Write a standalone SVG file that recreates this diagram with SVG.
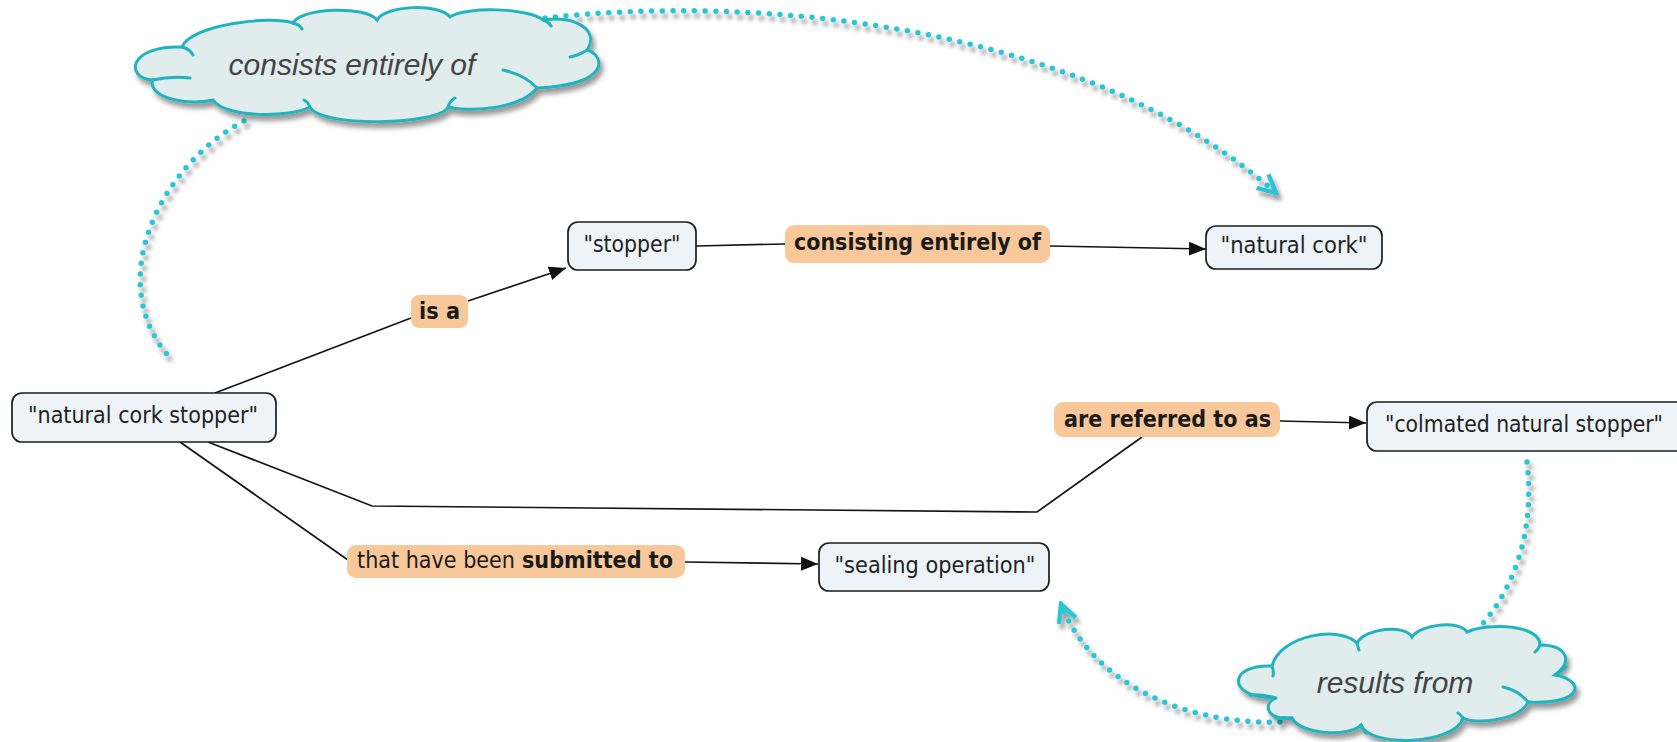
<svg xmlns="http://www.w3.org/2000/svg" width="1677" height="742" viewBox="0 0 1677 742">
  <defs>
    <style>
      .node rect { fill: #edf3f6; stroke: #1c1c1c; stroke-width: 1.7; }
      .node text { font-family: "DejaVu Sans", Verdana, sans-serif; font-size: 23px; fill: #222; text-anchor: middle; }
      .label rect { fill: #f8c89a; stroke: none; }
      .label text { font-family: "DejaVu Sans", Verdana, sans-serif; font-size: 23px; font-weight: bold; fill: #1a1a1a; text-anchor: middle; }
      .label text.plain { font-weight: normal; }
      .label text.start { text-anchor: start; }
      .link { fill: none; stroke: #141414; stroke-width: 1.7; }
      .dots { fill: none; stroke: #2ac6d6; stroke-width: 5.5; stroke-linecap: round; stroke-dasharray: 0 10.7; }
      .cloud path.body { fill: #e1eced; stroke: #22b4be; stroke-width: 3; }
      .cloud path.crease { fill: none; stroke: #22b4be; stroke-width: 3; stroke-linecap: round; }
      .cloud text { font-family: "Liberation Sans", Arial, sans-serif; font-style: italic; font-size: 30px; fill: #444; text-anchor: middle; }
    </style>
    <marker id="arrow" markerUnits="userSpaceOnUse" viewBox="0 0 17 14" refX="17" refY="7" markerWidth="17" markerHeight="14" orient="auto">
      <path d="M0,0 L17,7 L0,14 Z" fill="#111"/>
    </marker>
    <marker id="chevron" markerUnits="userSpaceOnUse" viewBox="0 0 24 24" refX="21" refY="12" markerWidth="24" markerHeight="24" orient="auto">
      <path d="M3,3 L21,12 L3,21" fill="none" stroke="#2ac6d6" stroke-width="4.5" stroke-dasharray="none" stroke-linejoin="miter"/>
    </marker>
    <filter id="shadow" x="-10%" y="-20%" width="130%" height="160%">
      <feDropShadow dx="3" dy="5" stdDeviation="2" flood-color="#000" flood-opacity="0.4"/>
    </filter>
    <filter id="cloudShadow" x="-10%" y="-20%" width="130%" height="160%">
      <feDropShadow dx="3" dy="5" stdDeviation="2.5" flood-color="#000" flood-opacity="0.4"/>
    </filter>
  </defs>

  <rect width="1677" height="742" fill="#ffffff"/>

  <!-- connectors -->
  <g id="connectors">
    <path class="link" d="M215,393 L411,318"/>
    <path class="link" d="M468,301 L566,268" marker-end="url(#arrow)"/>
    <path class="link" d="M696,246 L785,244"/>
    <path class="link" d="M1050,246 L1206,249" marker-end="url(#arrow)"/>
    <path class="link" d="M208,442 L372,506 L1037,512 L1142,437"/>
    <path class="link" d="M1280,421 L1366,423" marker-end="url(#arrow)"/>
    <path class="link" d="M180,442 L348,560"/>
    <path class="link" d="M685,562 L818,564" marker-end="url(#arrow)"/>

    <g filter="url(#shadow)">
      <path class="dots" d="M244,121 C160,165 100,285 173,361"/>
      <path class="dots" d="M545,18 C750,-5 1080,20 1276,193" marker-end="url(#chevron)"/>
      <path class="dots" d="M1527,462 C1535,530 1515,590 1477,630"/>
      <path class="dots" d="M1280,722 C1180,725 1090,680 1061,604" marker-end="url(#chevron)"/>
    </g>
  </g>

  <!-- concepts -->
  <g id="natural-cork-stopper" class="node">
    <rect x="12" y="393" width="264" height="49" rx="10"/>
    <text x="143" y="423" textLength="230" lengthAdjust="spacingAndGlyphs">"natural cork stopper"</text>
  </g>
  <g id="stopper" class="node">
    <rect x="568" y="222" width="128" height="48" rx="10"/>
    <text x="632" y="252" textLength="97" lengthAdjust="spacingAndGlyphs">"stopper"</text>
  </g>
  <g id="natural-cork" class="node">
    <rect x="1206" y="226" width="176" height="43" rx="10"/>
    <text x="1294" y="253" textLength="147" lengthAdjust="spacingAndGlyphs">"natural cork"</text>
  </g>
  <g id="colmated-natural-stopper" class="node">
    <rect x="1367" y="402" width="330" height="49" rx="10"/>
    <text x="1524" y="432" textLength="278" lengthAdjust="spacingAndGlyphs">"colmated natural stopper"</text>
  </g>
  <g id="sealing-operation" class="node">
    <rect x="819" y="543" width="230" height="48" rx="10"/>
    <text x="935" y="573" textLength="201" lengthAdjust="spacingAndGlyphs">"sealing operation"</text>
  </g>

  <!-- linking phrases -->
  <g id="label-is-a" class="label">
    <rect x="411" y="295" width="57" height="33" rx="8"/>
    <text x="439.5" y="319" textLength="41" lengthAdjust="spacingAndGlyphs">is a</text>
  </g>
  <g id="label-consisting" class="label">
    <rect x="785" y="225" width="265" height="38" rx="9"/>
    <text x="917.5" y="250" textLength="247" lengthAdjust="spacingAndGlyphs">consisting entirely of</text>
  </g>
  <g id="label-referred" class="label">
    <rect x="1054" y="402" width="226" height="35" rx="9"/>
    <text x="1167.5" y="427" textLength="207" lengthAdjust="spacingAndGlyphs">are referred to as</text>
  </g>
  <g id="label-submitted" class="label">
    <rect x="347" y="545" width="338" height="33" rx="9"/>
    <text class="plain start" x="357" y="568" textLength="158" lengthAdjust="spacingAndGlyphs">that have been</text>
    <text class="start" x="522" y="568" textLength="151" lengthAdjust="spacingAndGlyphs">submitted to</text>
  </g>

  <!-- cloud annotations -->
  <g id="cloud-consists" class="cloud">
    <path class="body" filter="url(#cloudShadow)" d="M182,47 C190,25 270,15 293,23 C300,8 365,5 377,20 C385,5 440,3 450,17 C465,6 530,8 543,20 C575,15 600,30 587,50 C605,55 612,85 537,88 C520,110 465,112 448,107 C440,125 320,128 310,107 C290,118 225,118 213,100 C190,105 150,100 152,80 C125,78 128,45 182,47 Z"/>
    <path class="crease" d="M182,47 Q190,49 193,55 M293,23 Q300,25 302,29 M543,20 Q549,22 551,26 M587,50 Q580,55 570,57 M537,88 Q525,75 503,70 M448,107 Q450,101 455,98 M310,107 Q308,102 304,100 M152,80 Q172,76 190,78"/>
    <text x="352" y="75">consists entirely of</text>
  </g>
  <g id="cloud-results" class="cloud">
    <path class="body" filter="url(#cloudShadow)" d="M1272,666 C1280,635 1340,625 1357,643 C1365,628 1405,624 1412,637 C1420,624 1460,620 1467,632 C1490,622 1540,625 1540,645 C1565,645 1575,660 1555,675 C1585,680 1585,705 1528,702 C1520,720 1475,725 1463,718 C1455,745 1370,748 1361,725 C1350,737 1300,735 1292,718 C1270,722 1260,705 1276,698 C1225,698 1228,664 1272,666 Z"/>
    <path class="crease" d="M1272,666 Q1274,671 1273,676 M1276,698 Q1262,694 1250,695 M1292,718 Q1284,717 1276,718 M1361,725 Q1364,731 1366,733 M1463,718 Q1460,714 1458,713 M1528,702 Q1518,690 1503,687 M1555,675 Q1561,671 1566,667 M1540,645 Q1538,650 1535,652 M1357,643 Q1358,647 1359,650"/>
    <text x="1395" y="693">results from</text>
  </g>
</svg>
